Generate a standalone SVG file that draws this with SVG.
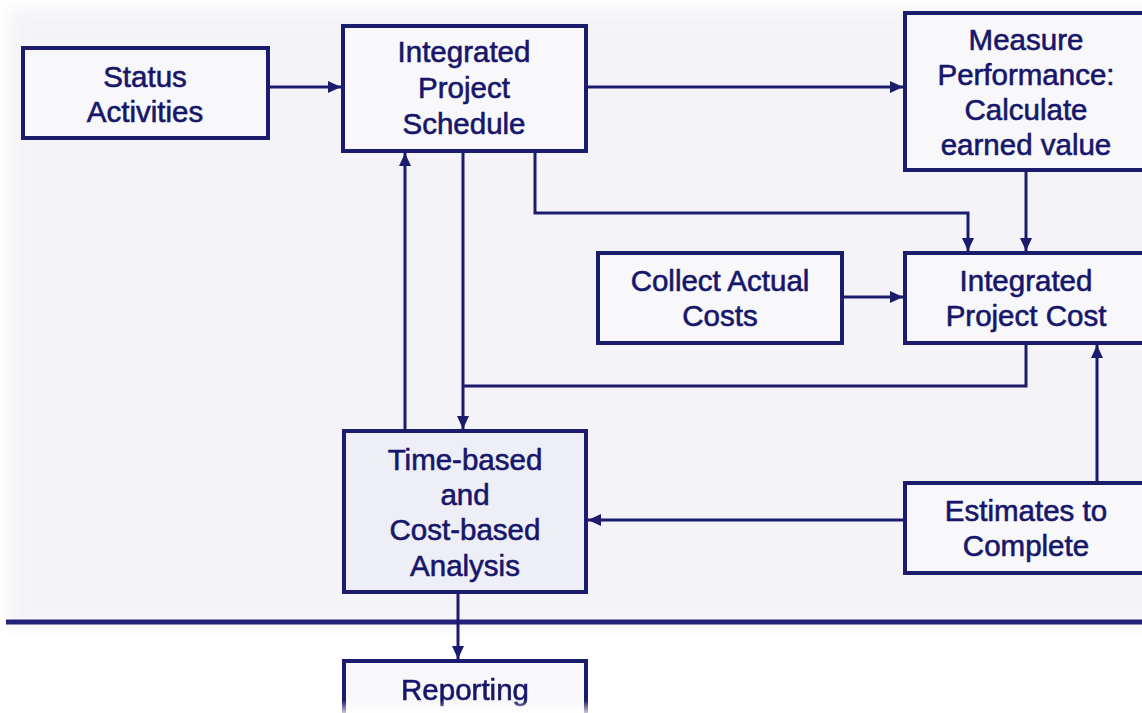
<svg xmlns="http://www.w3.org/2000/svg" width="1142" height="713" viewBox="0 0 1142 713">
  <style>
    .box { fill: #f8f8fb; stroke: #1c1c6e; stroke-width: 4; }
    .box2 { fill: #eeeef6; stroke: #1c1c6e; stroke-width: 4; }
    .lbl { font-family: "Liberation Sans", Arial, sans-serif; font-size: 29.5px; fill: #16166a; stroke: #16166a; stroke-width: 0.6; text-anchor: middle; }
    .con { fill: none; stroke: #1c1c6e; stroke-width: 3; }
  </style>
  <defs>
    <marker id="arr" markerUnits="userSpaceOnUse" markerWidth="14" markerHeight="12" refX="13" refY="6" orient="auto">
      <path d="M0,0 L13,6 L0,12 Z" fill="#1c1c6e"/>
    </marker>
    <filter id="soft" x="-5%" y="-5%" width="110%" height="110%">
      <feGaussianBlur stdDeviation="8"/>
    </filter>
    <linearGradient id="fadeG" x1="0" y1="0" x2="0" y2="1">
      <stop offset="0" stop-color="#fff" stop-opacity="1"/>
      <stop offset="0.8" stop-color="#fff" stop-opacity="1"/>
      <stop offset="1" stop-color="#fff" stop-opacity="0.25"/>
    </linearGradient>
    <mask id="fadeM" maskUnits="userSpaceOnUse" x="330" y="650" width="270" height="63">
      <rect x="330" y="650" width="270" height="63" fill="url(#fadeG)"/>
    </mask>
  </defs>

  <rect x="0" y="0" width="1142" height="713" fill="#ffffff"/>
  <rect x="8" y="8" width="1200" height="620" fill="#f4f4f8" filter="url(#soft)"/>
  <line x1="6" y1="622" x2="1142" y2="622" stroke="#23237a" stroke-width="5"/>

  <g id="connectors">
    <path class="con" d="M268,87 H341" marker-end="url(#arr)"/>
    <path class="con" d="M586,87 H903" marker-end="url(#arr)"/>
    <path class="con" d="M535,151 V213 H968 V251" marker-end="url(#arr)"/>
    <path class="con" d="M1026,170 V251" marker-end="url(#arr)"/>
    <path class="con" d="M842,297 H903" marker-end="url(#arr)"/>
    <path class="con" d="M1026,343 V386 H463"/>
    <path class="con" d="M463,151 V429" marker-end="url(#arr)"/>
    <path class="con" d="M405,431 V153" marker-end="url(#arr)"/>
    <path class="con" d="M905,520 H588" marker-end="url(#arr)"/>
    <path class="con" d="M1097,483 V345" marker-end="url(#arr)"/>
    <path class="con" d="M458,594 V659" marker-end="url(#arr)"/>
  </g>

  <g id="status-activities">
    <rect class="box" x="23" y="48" width="245" height="90"/>
    <text class="lbl" x="145" y="87">Status</text>
    <text class="lbl" x="145" y="122">Activities</text>
  </g>

  <g id="integrated-project-schedule">
    <rect class="box" x="343" y="26" width="243" height="125"/>
    <text class="lbl" x="464" y="62">Integrated</text>
    <text class="lbl" x="464" y="98">Project</text>
    <text class="lbl" x="464" y="134">Schedule</text>
  </g>

  <g id="measure-performance">
    <rect class="box" x="905" y="13" width="245" height="157"/>
    <text class="lbl" x="1026" y="50">Measure</text>
    <text class="lbl" x="1026" y="85">Performance:</text>
    <text class="lbl" x="1026" y="120">Calculate</text>
    <text class="lbl" x="1026" y="155">earned value</text>
  </g>

  <g id="collect-actual-costs">
    <rect class="box" x="598" y="253" width="244" height="90"/>
    <text class="lbl" x="720" y="291">Collect Actual</text>
    <text class="lbl" x="720" y="326">Costs</text>
  </g>

  <g id="integrated-project-cost">
    <rect class="box" x="905" y="253" width="245" height="90"/>
    <text class="lbl" x="1026" y="291">Integrated</text>
    <text class="lbl" x="1026" y="326">Project Cost</text>
  </g>

  <g id="time-cost-analysis">
    <rect class="box2" x="344" y="431" width="242" height="161"/>
    <text class="lbl" x="465" y="470">Time-based</text>
    <text class="lbl" x="465" y="505">and</text>
    <text class="lbl" x="465" y="540">Cost-based</text>
    <text class="lbl" x="465" y="576">Analysis</text>
  </g>

  <g id="estimates-to-complete">
    <rect class="box" x="905" y="483" width="245" height="90"/>
    <text class="lbl" x="1026" y="521">Estimates to</text>
    <text class="lbl" x="1026" y="556">Complete</text>
  </g>

  <g id="reporting" mask="url(#fadeM)">
    <rect class="box" x="344" y="661" width="242" height="80"/>
    <text class="lbl" x="465" y="700">Reporting</text>
  </g>
</svg>
